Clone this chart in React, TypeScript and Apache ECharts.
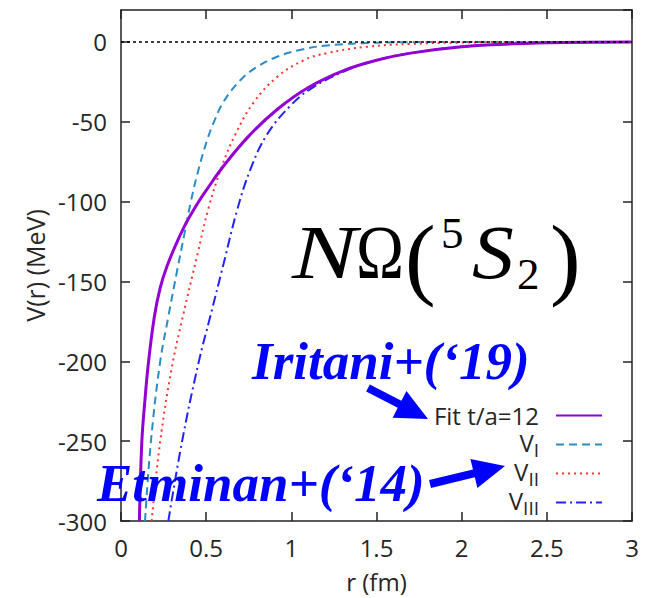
import React, { useEffect, useRef } from "react";
import * as echarts from "echarts";

// ---- data ----
const fitR = [0.108, 0.122, 0.14, 0.161, 0.196, 0.23, 0.27, 0.33, 0.37, 0.4, 0.45, 0.5, 0.6, 0.75, 0.92, 1.1, 1.31, 1.5, 1.7, 2.0, 2.3, 2.6, 3.0];
const fitV = [-300, -251, -225, -201, -172, -154, -140.5, -125, -116, -110, -101, -93, -78, -59, -42, -28.5, -17.8, -11.5, -7, -3, -1.2, -0.4, -0.1];

const v1R = [0.141, 0.175, 0.229, 0.278, 0.33, 0.371, 0.41, 0.45, 0.504, 0.55, 0.602, 0.7, 0.8, 0.916, 1.05, 1.21, 1.5, 1.8, 3.0];
const v1V = [-300, -251, -201, -172, -143, -121, -100, -82, -62, -49, -37.5, -24, -15.5, -9.3, -5, -2.2, -0.5, -0.1, 0];

const v2R = [0.18, 0.229, 0.298, 0.363, 0.449, 0.514, 0.592, 0.671, 0.778, 0.916, 1.072, 1.21, 1.445, 1.7, 2.0, 2.5, 3.0];
const v2V = [-300, -251, -204, -172, -133, -104, -78, -58, -38, -22, -11.5, -7, -3, -1.2, -0.4, -0.1, 0];

const v3R = [0.278, 0.357, 0.455, 0.524, 0.602, 0.68, 0.759, 0.857, 0.994, 1.112, 1.308, 1.504, 1.7, 2.0, 2.5, 3.0];
const v3V = [-300, -251, -201, -172, -139, -106, -80, -58, -40, -29.5, -18.5, -11.2, -7, -3, -0.6, -0.1];

const seriesNames = ["Fit t/a=12", "V_I", "V_II", "V_III"];
const xMin = 0, xMax = 3, xStep = 0.5;
const yMin = -300, yMax = 20, yStep = 50;

const zip = (a: number[], b: number[]) => a.map((x, i) => [x, b[i]]);

const LABEL_FONT = "Open Sans";
const TEXT_COLOR = "#262626";
const AXIS_COLOR = "#222";

function arrowPoints(x1: number, y1: number, x2: number, y2: number, shaft = 8, headLen = 32, headW = 30) {
  const dx = x2 - x1, dy = y2 - y1;
  const L = Math.sqrt(dx * dx + dy * dy);
  const ux = dx / L, uy = dy / L;
  const px = -uy, py = ux;
  const bx = x2 - ux * headLen, by = y2 - uy * headLen;
  const s = shaft / 2, h = headW / 2;
  return [
    [x1 + px * s, y1 + py * s],
    [bx + px * s, by + py * s],
    [bx + px * h, by + py * h],
    [x2, y2],
    [bx - px * h, by - py * h],
    [bx - px * s, by - py * s],
    [x1 - px * s, y1 - py * s],
  ];
}

export default function App() {
  const ref = useRef<HTMLDivElement>(null);
  useEffect(() => {
    if (!ref.current) return;
    const chart = echarts.init(ref.current, null, { renderer: "svg" });
    const axisLineStyle = { color: AXIS_COLOR, width: 1.5 };
    const serif = "Liberation Serif";
    const titleText = (text: string, x: number, y: number, size: number, italic: boolean, scaleX = 1) => ({
      type: "text",
      x,
      y,
      scaleX,
      style: {
        text,
        fontSize: size,
        fontFamily: serif,
        fontStyle: italic ? "italic" : "normal",
        fill: "#000",
        align: "left",
        verticalAlign: "middle",
      },
    });
    const lineCommon = { type: "line", symbol: "none", showSymbol: false, smooth: 0.4 };
    const option: any = {
      animation: false,
      backgroundColor: "#fff",
      grid: { left: 121, right: 16, top: 10, bottom: 71, show: false },
      xAxis: [
        {
          type: "value",
          min: xMin,
          max: xMax,
          interval: xStep,
          position: "bottom",
          axisLine: { show: true, onZero: false, lineStyle: axisLineStyle },
          axisTick: { show: true, inside: true, length: 9, lineStyle: axisLineStyle },
          axisLabel: { fontSize: 24, fontFamily: LABEL_FONT, color: TEXT_COLOR, margin: 14 },
          splitLine: { show: false },
          name: "r (fm)",
          nameLocation: "middle",
          nameGap: 48,
          nameTextStyle: { fontSize: 24, fontFamily: LABEL_FONT, color: TEXT_COLOR },
        },
        {
          type: "value",
          min: xMin,
          max: xMax,
          interval: xStep,
          position: "top",
          axisLine: { show: true, onZero: false, lineStyle: axisLineStyle },
          axisTick: { show: true, inside: true, length: 9, lineStyle: axisLineStyle },
          axisLabel: { show: false },
          splitLine: { show: false },
        },
      ],
      yAxis: [
        {
          type: "value",
          min: yMin,
          max: yMax,
          interval: yStep,
          position: "left",
          axisLine: { show: true, onZero: false, lineStyle: axisLineStyle },
          axisTick: { show: true, inside: true, length: 9, lineStyle: axisLineStyle },
          axisLabel: { fontSize: 24, fontFamily: LABEL_FONT, color: TEXT_COLOR, margin: 14, showMaxLabel: false },
          splitLine: { show: false },
          name: "V(r) (MeV)",
          nameLocation: "middle",
          nameGap: 66,
          nameRotate: 90,
          nameTextStyle: { fontSize: 25, fontFamily: LABEL_FONT, color: TEXT_COLOR },
        },
        {
          type: "value",
          min: yMin,
          max: yMax,
          interval: yStep,
          position: "right",
          axisLine: { show: true, onZero: false, lineStyle: axisLineStyle },
          axisTick: { show: true, inside: true, length: 9, lineStyle: axisLineStyle },
          axisLabel: { show: false },
          splitLine: { show: false },
        },
      ],
      legend: {
        orient: "vertical",
        right: 45,
        top: 401,
        align: "right",
        padding: 0,
        itemGap: 0,
        itemWidth: 46,
        itemHeight: 14,
        data: seriesNames,
        itemStyle: { opacity: 0 },
        textStyle: {
          fontSize: 24,
          fontFamily: LABEL_FONT,
          color: TEXT_COLOR,
          lineHeight: 29,
          padding: [0, 12, 0, 0],
          rich: {
            v: { fontSize: 24, fontFamily: LABEL_FONT, color: TEXT_COLOR, lineHeight: 29, padding: [0, 0, 4, 0] },
            s: { fontSize: 19, fontFamily: LABEL_FONT, color: TEXT_COLOR, lineHeight: 29, padding: [10, 0, 0, 0] },
          },
        },
        formatter: (name: string) => {
          if (name.startsWith("V_")) return "{v|V}{s|" + name.slice(2) + "}";
          return name;
        },
      },
      series: [
        {
          ...lineCommon,
          name: seriesNames[0],
          data: zip(fitR, fitV),
          lineStyle: { color: "#9400d3", width: 3 },
          itemStyle: { color: "#9400d3" },
          z: 6,
        },
        {
          ...lineCommon,
          name: seriesNames[1],
          data: zip(v1R, v1V),
          lineStyle: { color: "#2b8cc4", width: 2, type: [8, 5] },
          itemStyle: { color: "#2b8cc4" },
          z: 4,
          markLine: {
            silent: true,
            symbol: "none",
            label: { show: false },
            lineStyle: { color: "#000", width: 1.5, type: [3, 3] },
            data: [{ yAxis: 0 }],
            z: 10,
          },
        },
        {
          ...lineCommon,
          name: seriesNames[2],
          data: zip(v2R, v2V),
          lineStyle: { color: "#ff3333", width: 2, type: [2, 4] },
          itemStyle: { color: "#ff3333" },
          z: 4,
        },
        {
          ...lineCommon,
          name: seriesNames[3],
          data: zip(v3R, v3V),
          lineStyle: { color: "#2222ff", width: 2, type: [10, 4, 2, 4] },
          itemStyle: { color: "#2222ff" },
          z: 4,
        },
      ],
      graphic: [
        titleText("N", 292, 252, 76, true, 1.28),
        titleText("Ω", 356, 252, 76, false, 0.85),
        titleText("(", 405, 257, 92, false),
        titleText("5", 441, 233, 45, false),
        titleText("S", 472, 252, 76, true, 1.1),
        titleText("2", 517, 274, 45, false),
        titleText(")", 550, 257, 92, false),
        {
          type: "text",
          x: 252,
          y: 361,
          style: {
            text: "Iritani+(‘19)",
            fontSize: 53,
            fontFamily: serif,
            fontStyle: "italic",
            fontWeight: "bold",
            fill: "#0000ff",
            align: "left",
            verticalAlign: "middle",
          },
          z: 20,
        },
        {
          type: "text",
          x: 97,
          y: 483,
          style: {
            text: "Etminan+(‘14)",
            fontSize: 53,
            fontFamily: serif,
            fontStyle: "italic",
            fontWeight: "bold",
            fill: "#0000ff",
            align: "left",
            verticalAlign: "middle",
          },
          z: 20,
        },
        {
          type: "polygon",
          shape: { points: arrowPoints(368, 388, 428, 419) },
          style: { fill: "#0000ff" },
          z: 20,
        },
        {
          type: "polygon",
          shape: { points: arrowPoints(430, 484, 505, 466) },
          style: { fill: "#0000ff" },
          z: 20,
        },
      ],
    };
    chart.setOption(option);
    return () => chart.dispose();
  }, []);
  return (
    <div
      ref={ref}
      style={{ position: "fixed", left: 0, top: 0, width: 648, height: 598, background: "#fff" }}
    />
  );
}
